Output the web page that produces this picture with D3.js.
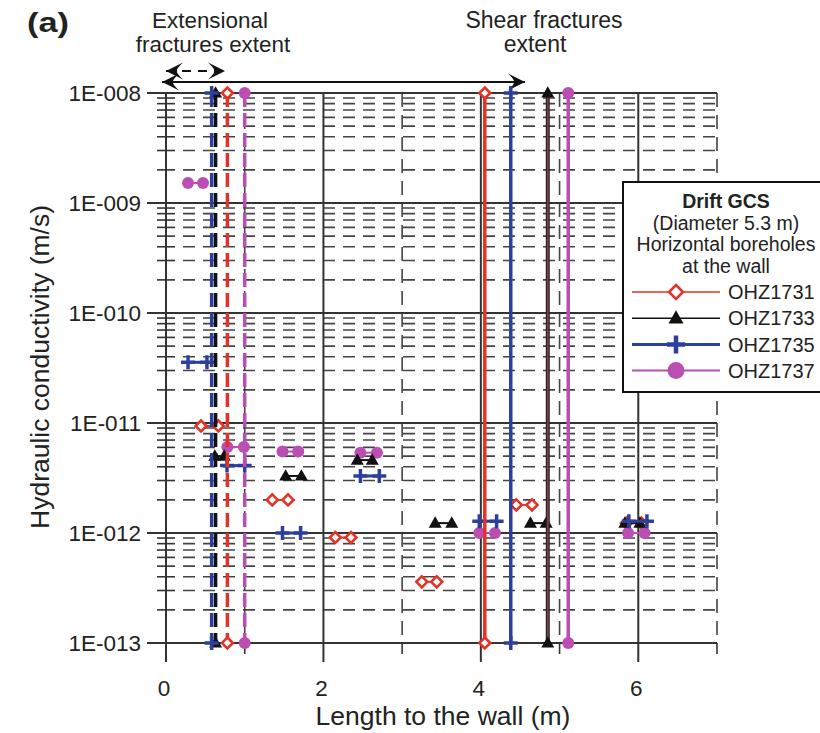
<!DOCTYPE html>
<html><head><meta charset="utf-8">
<script src="https://cdn.jsdelivr.net/npm/d3@7"></script>
<style>body{margin:0;background:#fff}svg{display:block}text{font-family:"Liberation Sans",Arial,sans-serif;fill:#222}</style>
</head><body><svg id="c" width="820" height="733"></svg>
<script>
// ---- data ----
const yTickValues = [1e-8, 1e-9, 1e-10, 1e-11, 1e-12, 1e-13];
const yTickLabels = ["1E-008", "1E-009", "1E-010", "1E-011", "1E-012", "1E-013"];
const xTickValues = [0, 2, 4, 6];
const xTickLabels = ["0", "2", "4", "6"];
const seriesNames = ["OHZ1731", "OHZ1733", "OHZ1735", "OHZ1737"];
const seriesColors = ["#e53227", "#111111", "#2c3f9f", "#bb4db3"];
const seriesMarkers = ["diamond", "triangle", "plus", "circle"];
// tested intervals: [from (m), to (m), K (m/s)]
const ohz1731 = [[5.85, 6.04, 1.23e-12], [0.445, 0.665, 9.4e-12], [1.35, 1.55, 2.0e-12], [2.15, 2.35, 9.1e-13], [3.25, 3.44, 3.6e-13], [4.45, 4.65, 1.8e-12]];
const ohz1733 = [[0.62, 0.74, 5.0e-12], [1.52, 1.72, 3.3e-12], [2.43, 2.62, 4.6e-12], [3.42, 3.63, 1.23e-12], [4.63, 4.83, 1.23e-12], [5.83, 6.02, 1.23e-12]];
const ohz1735 = [[0.28, 0.52, 3.56e-11], [0.775, 1.0, 4.1e-12], [1.48, 1.71, 1.0e-12], [2.47, 2.71, 3.3e-12], [3.98, 4.2, 1.28e-12], [5.88, 6.11, 1.28e-12]];
const ohz1737 = [[0.28, 0.47, 1.52e-9], [0.78, 0.99, 6.05e-12], [1.48, 1.68, 5.5e-12], [2.47, 2.68, 5.37e-12], [3.98, 4.18, 1.0e-12], [5.87, 6.08, 1.0e-12]];
// fracture extents per borehole (m)
const extensionalExtent = [0.78, 0.63, 0.58, 1.00];
const shearExtent = [4.05, 4.85, 4.38, 5.11];
const extensionalArrow = [0, 0.75];
const shearArrow = [-0.05, 4.56];

// ---- scales ----
const svg = d3.select("#c");
const x = d3.scaleLinear().domain([0, 7]).range([166, 717]);
const y = d3.scaleLog().domain([1e-13, 1e-8]).range([643, 93]);
const seriesData = [ohz1731, ohz1733, ohz1735, ohz1737];

// ---- grid ----
const grid = svg.append("g");
const minorVals = [];
for (let e = -13; e < -8; e++) for (let m = 2; m <= 9; m++) minorVals.push(m * Math.pow(10, e));
minorVals.forEach(v => {
  grid.append("line").attr("x1", 157).attr("x2", 175).attr("y1", y(v)).attr("y2", y(v))
    .attr("stroke", "#333").attr("stroke-width", 1.6);
  grid.append("line").attr("x1", 183).attr("x2", x(7)).attr("y1", y(v)).attr("y2", y(v))
    .attr("stroke", "#444").attr("stroke-width", 1.6).attr("stroke-dasharray", "12,8");
});
[1, 3, 5, 7].forEach(v => {
  grid.append("line").attr("x1", x(v)).attr("x2", x(v)).attr("y1", y(1e-8)).attr("y2", y(1e-13))
    .attr("stroke", "#444").attr("stroke-width", 1.6).attr("stroke-dasharray", "14,8");
  grid.append("line").attr("x1", x(v)).attr("x2", x(v)).attr("y1", y(1e-13)).attr("y2", 654)
    .attr("stroke", "#333").attr("stroke-width", 1.6);
});
[0, 2, 4, 6].forEach(v => {
  grid.append("line").attr("x1", x(v)).attr("x2", x(v)).attr("y1", y(1e-8)).attr("y2", 662)
    .attr("stroke", "#333").attr("stroke-width", 2);
});
yTickValues.forEach(v => {
  grid.append("line").attr("x1", 147).attr("x2", x(7)).attr("y1", y(v)).attr("y2", y(v))
    .attr("stroke", "#333").attr("stroke-width", 2);
});

// ---- tick labels & titles ----
yTickValues.forEach((v, i) => {
  svg.append("text").attr("x", 141).attr("y", y(v)).attr("dy", "0.36em").attr("text-anchor", "end")
    .attr("font-size", 22.5).text(yTickLabels[i]);
});
xTickValues.forEach((v, i) => {
  svg.append("text").attr("x", x(v) - 2).attr("y", 696).attr("text-anchor", "middle")
    .attr("font-size", 22.5).text(xTickLabels[i]);
});
svg.append("text").attr("transform", "translate(49,367) rotate(-90)").attr("text-anchor", "middle")
  .attr("font-size", 26.5).text("Hydraulic conductivity (m/s)");
svg.append("text").attr("x", 443).attr("y", 725).attr("text-anchor", "middle")
  .attr("font-size", 26.5).text("Length to the wall (m)");
svg.append("text").attr("x", 27).attr("y", 32).attr("font-size", 27).attr("font-weight", "bold")
  .attr("textLength", 42).attr("lengthAdjust", "spacingAndGlyphs").text("(a)");
svg.append("text").attr("x", 210).attr("y", 28).attr("text-anchor", "middle").attr("font-size", 22.4).text("Extensional");
svg.append("text").attr("x", 213).attr("y", 52).attr("text-anchor", "middle").attr("font-size", 22.4).text("fractures extent");
svg.append("text").attr("x", 544).attr("y", 28).attr("text-anchor", "middle").attr("font-size", 23).text("Shear fractures");
svg.append("text").attr("x", 535).attr("y", 52).attr("text-anchor", "middle").attr("font-size", 23).text("extent");

// ---- markers ----
function marker(g, type, cx, cy, s, color) {
  if (type === "diamond") {
    g.append("path").attr("d", `M${cx},${cy - s}L${cx + s},${cy}L${cx},${cy + s}L${cx - s},${cy}Z`)
      .attr("fill", "#fff").attr("stroke", color).attr("stroke-width", 2.6);
  } else if (type === "triangle") {
    g.append("path").attr("d", `M${cx},${cy - s * 1.05}L${cx + s},${cy + s * 0.7}L${cx - s},${cy + s * 0.7}Z`)
      .attr("fill", color);
  } else if (type === "plus") {
    g.append("path").attr("d", `M${cx - s},${cy}H${cx + s}M${cx},${cy - s}V${cy + s}`)
      .attr("stroke", color).attr("stroke-width", s * 0.5);
  } else {
    g.append("circle").attr("cx", cx).attr("cy", cy).attr("r", s).attr("fill", color);
  }
}
const mSize = [5.5, 6.5, 7, 6];

// ---- extent arrows ----
const defs = svg.append("defs");
["s", "e"].forEach(k => {
  defs.append("marker").attr("id", "ah" + k).attr("viewBox", "-18 -10 20 20").attr("refX", 0).attr("refY", 0)
    .attr("markerWidth", 20).attr("markerHeight", 20).attr("markerUnits", "userSpaceOnUse")
    .attr("orient", k === "s" ? "auto-start-reverse" : "auto")
    .append("path").attr("d", "M0,0 L-17,-8.5 Q-10,-2 -11,0 Q-10,2 -17,8.5 Z").attr("fill", "#111");
});
svg.append("line").attr("x1", x(extensionalArrow[0])).attr("x2", x(extensionalArrow[1])).attr("y1", 71).attr("y2", 71)
  .attr("stroke", "#111").attr("stroke-width", 2).attr("stroke-dasharray", "9,7")
  .attr("marker-start", "url(#ahs)").attr("marker-end", "url(#ahe)");
svg.append("line").attr("x1", x(shearArrow[0])).attr("x2", x(shearArrow[1])).attr("y1", 82).attr("y2", 82)
  .attr("stroke", "#111").attr("stroke-width", 2.2)
  .attr("marker-start", "url(#ahs)").attr("marker-end", "url(#ahe)");

// ---- interval data ----
const dg = svg.append("g");
[0, 3, 1, 2].forEach(i => {
  seriesData[i].forEach(d => {
    dg.append("line").attr("x1", x(d[0])).attr("x2", x(d[1])).attr("y1", y(d[2])).attr("y2", y(d[2]))
      .attr("stroke", seriesColors[i]).attr("stroke-width", i === 2 ? 3 : 2);
    marker(dg, seriesMarkers[i], x(d[0]), y(d[2]), mSize[i], seriesColors[i]);
    marker(dg, seriesMarkers[i], x(d[1]), y(d[2]), mSize[i], seriesColors[i]);
  });
});

// ---- extent vertical lines ----
const vg = svg.append("g");
const vOrder = [1, 2, 0, 3];
vOrder.forEach(i => {
  vg.append("line").attr("x1", x(extensionalExtent[i])).attr("x2", x(extensionalExtent[i]))
    .attr("y1", y(1e-8)).attr("y2", y(1e-13)).attr("stroke", seriesColors[i]).attr("stroke-width", 3.5)
    .attr("stroke-dasharray", "14,6");
});
[0, 2, 3].forEach(i => {
  vg.append("line").attr("x1", x(shearExtent[i])).attr("x2", x(shearExtent[i]))
    .attr("y1", y(1e-8)).attr("y2", y(1e-13)).attr("stroke", seriesColors[i]).attr("stroke-width", 3.5);
});
vg.append("line").attr("x1", x(shearExtent[1])).attr("x2", x(shearExtent[1]))
  .attr("y1", y(1e-8)).attr("y2", y(1e-13)).attr("stroke", "#222").attr("stroke-width", 4);
vg.append("line").attr("x1", x(shearExtent[1])).attr("x2", x(shearExtent[1]))
  .attr("y1", y(1e-8)).attr("y2", y(1e-13)).attr("stroke", "#7a4040").attr("stroke-width", 1.8);
vOrder.forEach(i => {
  [1e-8, 1e-13].forEach(v => {
    marker(vg, seriesMarkers[i], x(extensionalExtent[i]), y(v), mSize[i], seriesColors[i]);
    marker(vg, seriesMarkers[i], x(shearExtent[i]), y(v), mSize[i], seriesColors[i]);
  });
});

// ---- legend ----
const lg = svg.append("g");
lg.append("rect").attr("x", 623).attr("y", 182).attr("width", 210).attr("height", 210)
  .attr("fill", "#fff").attr("stroke", "#111").attr("stroke-width", 2);
const legendTitle = ["Drift GCS", "(Diameter 5.3 m)", "Horizontal boreholes", "at the wall"];
legendTitle.forEach((t, i) => {
  lg.append("text").attr("x", 726).attr("y", 208 + i * 21.5).attr("text-anchor", "middle")
    .attr("font-size", 19.5).attr("font-weight", i === 0 ? "bold" : "normal").text(t);
});
const legendLineW = [1.5, 1.5, 3, 2];
const legendSize = [7, 7.5, 9, 8.5];
seriesNames.forEach((n, i) => {
  const ly = 292 + i * 26.2;
  lg.append("line").attr("x1", 632).attr("x2", 720).attr("y1", ly).attr("y2", ly)
    .attr("stroke", seriesColors[i]).attr("stroke-width", legendLineW[i]);
  marker(lg, seriesMarkers[i], 676, ly, legendSize[i], seriesColors[i]);
  lg.append("text").attr("x", 728).attr("y", ly).attr("dy", "0.36em").attr("font-size", 20).text(n);
});
</script></body></html>
